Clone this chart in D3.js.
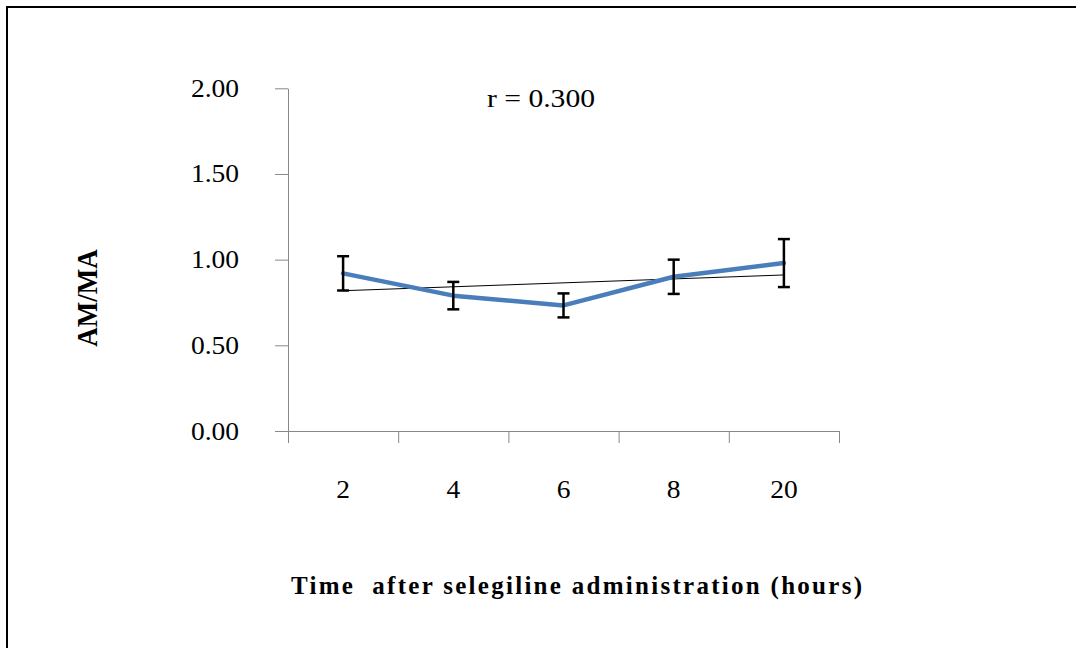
<!DOCTYPE html>
<html>
<head>
<meta charset="utf-8">
<script src="https://cdn.jsdelivr.net/npm/d3@7"></script>
<style>
  body { margin: 0; background: #fff; }
  text { font-family: "Liberation Serif", "Times New Roman", serif; fill: #000; }
</style>
</head>
<body>
<svg id="chart" width="1076" height="648"></svg>
<script>
var categories = ["2", "4", "6", "8", "20"];
var meanValues = [0.92, 0.79, 0.733, 0.90, 0.98];
var errValues = [0.10, 0.08, 0.07, 0.10, 0.14];
var yTicks = [0, 0.5, 1.0, 1.5, 2.0];

var svg = d3.select("#chart");

// frame (right/bottom edges are off the picture)
svg.append("rect")
  .attr("x", 7).attr("y", 7)
  .attr("width", 1100).attr("height", 700)
  .attr("fill", "none")
  .attr("stroke", "#000")
  .attr("stroke-width", 2);

var margin = {top: 88.3, left: 288};
var width = 839 - 288;
var height = 431 - 88.3;

var chart = svg.append("g")
  .attr("transform", "translate(" + margin.left + "," + margin.top + ")");

var x = d3.scaleBand().domain(categories).range([0, width]);
var xEdge = d3.scaleLinear().domain([0, categories.length]).range([0, width]);
var y = d3.scaleLinear().domain([0, 2]).range([height, 0]);

var yAxis = d3.axisLeft(y)
  .tickValues(yTicks)
  .tickSize(13)
  .tickSizeOuter(0)
  .tickFormat(d3.format(".2f"));

var gy = chart.append("g").call(yAxis);
gy.select(".domain").attr("stroke", "#888");
gy.selectAll(".tick line").attr("stroke", "#888");
gy.selectAll(".tick text")
  .attr("x", -49 / 1.1)
  .attr("transform", "scale(1.1,1)")
  .style("font-size", "25px")
  .style("font-family", "Liberation Serif");

var xAxis = d3.axisBottom(xEdge)
  .tickValues(d3.range(categories.length + 1))
  .tickSize(12)
  .tickSizeOuter(0)
  .tickFormat("");

var gx = chart.append("g")
  .attr("transform", "translate(0," + height + ")")
  .call(xAxis);
gx.select(".domain").attr("stroke", "#888");
gx.selectAll(".tick line").attr("stroke", "#888");

chart.selectAll(".xlabel")
  .data(categories)
  .enter().append("text")
  .attr("class", "xlabel")
  .attr("transform", function(d) {
    return "translate(" + (x(d) + x.bandwidth() / 2) + "," + (height + 67) + ") scale(1.1,1)";
  })
  .attr("text-anchor", "middle")
  .style("font-size", "25px")
  .text(function(d) { return d; });

// linear trend line
var idx = d3.range(meanValues.length);
var mx = d3.mean(idx), my = d3.mean(meanValues);
var slope = d3.sum(idx, function(i) { return (i - mx) * (meanValues[i] - my); }) /
            d3.sum(idx, function(i) { return (i - mx) * (i - mx); });
var icpt = my - slope * mx;
chart.append("line")
  .attr("x1", x(categories[0]) + x.bandwidth() / 2)
  .attr("x2", x(categories[categories.length - 1]) + x.bandwidth() / 2)
  .attr("y1", y(icpt))
  .attr("y2", y(icpt + slope * (categories.length - 1)))
  .attr("stroke", "#000")
  .attr("stroke-width", 1);

// series line
var line = d3.line()
  .x(function(d, i) { return x(categories[i]) + x.bandwidth() / 2; })
  .y(function(d) { return y(d); });

chart.append("path")
  .datum(meanValues)
  .attr("d", line)
  .attr("fill", "none")
  .attr("stroke", "#4a7ebb")
  .attr("stroke-width", 4.5)
  .attr("stroke-linejoin", "round")
  .attr("stroke-linecap", "round");

// error bars
var err = chart.selectAll(".err")
  .data(meanValues)
  .enter().append("g")
  .attr("class", "err")
  .attr("transform", function(d, i) { return "translate(" + (x(categories[i]) + x.bandwidth() / 2) + ",0)"; });

err.append("line")
  .attr("y1", function(d, i) { return y(d + errValues[i]); })
  .attr("y2", function(d, i) { return y(d - errValues[i]); })
  .attr("stroke", "#000").attr("stroke-width", 2.5);
err.append("line")
  .attr("x1", -6).attr("x2", 6)
  .attr("y1", function(d, i) { return y(d + errValues[i]); })
  .attr("y2", function(d, i) { return y(d + errValues[i]); })
  .attr("stroke", "#000").attr("stroke-width", 2.5);
err.append("line")
  .attr("x1", -6).attr("x2", 6)
  .attr("y1", function(d, i) { return y(d - errValues[i]); })
  .attr("y2", function(d, i) { return y(d - errValues[i]); })
  .attr("stroke", "#000").attr("stroke-width", 2.5);

// r annotation
svg.append("text")
  .attr("transform", "translate(487,107) scale(1.14,1)")
  .style("font-size", "26px")
  .text("r = 0.300");

// y title
svg.append("text")
  .attr("transform", "translate(97,298) rotate(-90) scale(1,1.1)")
  .attr("text-anchor", "middle")
  .style("font-size", "27px")
  .style("font-weight", "bold")
  .text("AM/MA");

// x title
svg.append("text")
  .attr("x", 291)
  .attr("y", 594)
  .attr("textLength", 571)
  .attr("lengthAdjust", "spacing")
  .style("font-size", "25px")
  .style("font-weight", "bold")
  .style("white-space", "pre")
  .text("Time  after selegiline administration (hours)");
</script>
</body>
</html>
